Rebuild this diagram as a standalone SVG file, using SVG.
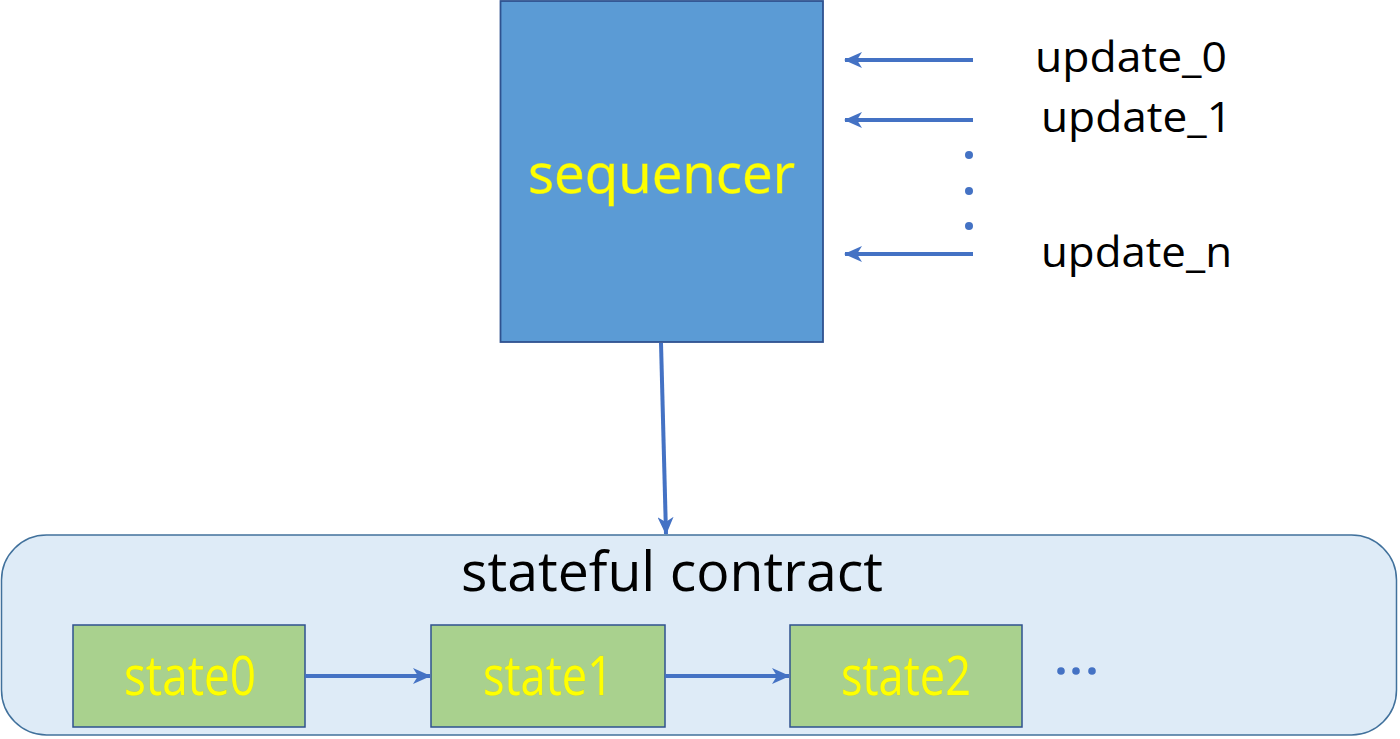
<svg xmlns="http://www.w3.org/2000/svg" width="1400" height="739" viewBox="0 0 1400 739">
<style>
.conn{stroke:#4472C4;stroke-width:4;fill:none}
.dark{font-family:"Open Sans","Liberation Sans",sans-serif;fill:#000}
.yel{font-family:"Open Sans","Liberation Sans",sans-serif;fill:#FFFF00;stroke:#B5CF5A;stroke-width:0.8;paint-order:stroke}
.state{fill:#A9D18E;stroke:#2F528F;stroke-width:1.5}
.dot{fill:#4472C4}
</style>
<defs>
<marker id="ah" markerUnits="userSpaceOnUse" viewBox="0 0 18 16" markerWidth="18" markerHeight="16" refX="17" refY="8" orient="auto">
<path d="M0,0 L18,8 L0,16 L5,8 z" fill="#4472C4"/>
</marker>
</defs>
<rect width="1400" height="739" fill="#fff"/>
<g id="contract">
<rect x="1.5" y="535" width="1395" height="200" rx="45" ry="45" fill="#DEEBF7" stroke="#41719C" stroke-width="1.5"/>
<text class="dark" x="672" y="591" font-size="54" text-anchor="middle" textLength="422" lengthAdjust="spacingAndGlyphs">stateful contract</text>
</g>
<g id="sequencer">
<rect x="500.5" y="1" width="322.5" height="341" fill="#5B9BD5" stroke="#2F528F" stroke-width="1.8"/>
<text class="yel" x="661.5" y="193" font-size="54" text-anchor="middle" textLength="267" lengthAdjust="spacingAndGlyphs">sequencer</text>
</g>
<g id="state0">
<rect class="state" x="73" y="625" width="232" height="102"/>
<text class="yel" x="190" y="695" font-size="54" text-anchor="middle" textLength="132" lengthAdjust="spacingAndGlyphs">state0</text>
</g>
<g id="state1">
<rect class="state" x="431" y="625" width="234" height="102"/>
<text class="yel" x="548" y="695" font-size="54" text-anchor="middle" textLength="130" lengthAdjust="spacingAndGlyphs">state1</text>
</g>
<g id="state2">
<rect class="state" x="790" y="625" width="232" height="102"/>
<text class="yel" x="906" y="695" font-size="54" text-anchor="middle" textLength="130" lengthAdjust="spacingAndGlyphs">state2</text>
</g>
<g id="labels">
<text class="dark" x="1035" y="72" font-size="42" textLength="192" lengthAdjust="spacingAndGlyphs">update_0</text>
<text class="dark" x="1041" y="132" font-size="42" textLength="191" lengthAdjust="spacingAndGlyphs">update_1</text>
<text class="dark" x="1041" y="267" font-size="42" textLength="191" lengthAdjust="spacingAndGlyphs">update_n</text>
</g>
<g id="connectors">
<line class="conn" x1="973" y1="60" x2="845" y2="60" marker-end="url(#ah)"/>
<line class="conn" x1="973" y1="120" x2="845" y2="120" marker-end="url(#ah)"/>
<line class="conn" x1="973" y1="254" x2="845" y2="254" marker-end="url(#ah)"/>
<line class="conn" x1="661" y1="343" x2="666" y2="534" marker-end="url(#ah)"/>
<line class="conn" x1="305" y1="676" x2="430" y2="676" marker-end="url(#ah)"/>
<line class="conn" x1="665" y1="676" x2="789" y2="676" marker-end="url(#ah)"/>
<circle class="dot" cx="969" cy="155" r="4"/>
<circle class="dot" cx="969" cy="191" r="4"/>
<circle class="dot" cx="969" cy="226" r="4"/>
<circle class="dot" cx="1061" cy="671" r="3.8"/>
<circle class="dot" cx="1076" cy="671" r="3.8"/>
<circle class="dot" cx="1092" cy="671" r="3.8"/>
</g>
</svg>
